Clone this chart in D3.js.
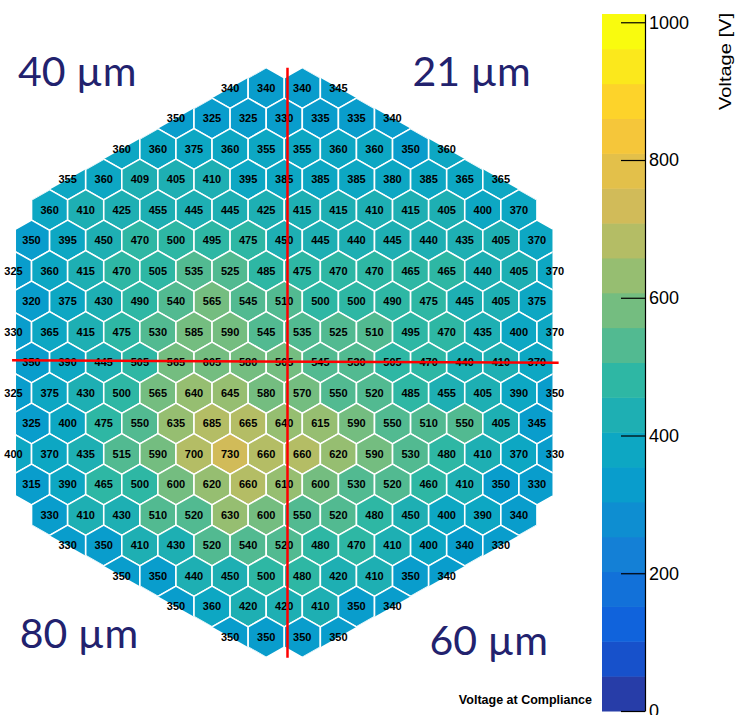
<!DOCTYPE html>
<html>
<head>
<meta charset="utf-8">
<script src="https://cdn.jsdelivr.net/npm/d3@7"></script>
<style>
  body { margin: 0; background: #fff; }
  svg { display: block; }
</style>
</head>
<body>
<svg id="chart"></svg>
<script>
const width = 738
const height = 715

// voltage at compliance, one list per honeycomb row (top to bottom)
const row01 = [340, 340, 340, 345]
const row02 = [350, 325, 325, 330, 335, 335, 340]
const row03 = [360, 360, 375, 360, 355, 355, 360, 360, 350, 360]
const row04 = [355, 360, 409, 405, 410, 395, 385, 385, 385, 380, 385, 365, 365]
const row05 = [360, 410, 425, 455, 445, 445, 425, 415, 415, 410, 415, 405, 400, 370]
const row06 = [350, 395, 450, 470, 500, 495, 475, 450, 445, 440, 445, 440, 435, 405, 370]
const row07 = [325, 360, 415, 470, 505, 535, 525, 485, 475, 470, 470, 465, 465, 440, 405, 370]
const row08 = [320, 375, 430, 490, 540, 565, 545, 510, 500, 500, 490, 475, 445, 405, 375]
const row09 = [330, 365, 415, 475, 530, 585, 590, 545, 535, 525, 510, 495, 470, 435, 400, 370]
const row10 = [350, 390, 445, 505, 565, 605, 580, 565, 545, 530, 505, 470, 440, 410, 370]
const row11 = [325, 375, 430, 500, 565, 640, 645, 580, 570, 550, 520, 485, 455, 405, 390, 350]
const row12 = [325, 400, 475, 550, 635, 685, 665, 640, 615, 590, 550, 510, 550, 405, 345]
const row13 = [400, 370, 435, 515, 590, 700, 730, 660, 660, 620, 590, 530, 480, 410, 370, 330]
const row14 = [315, 390, 465, 500, 600, 620, 660, 610, 600, 530, 520, 460, 410, 350, 330]
const row15 = [330, 410, 430, 510, 520, 630, 600, 550, 520, 480, 450, 400, 390, 340]
const row16 = [330, 350, 410, 430, 520, 540, 520, 480, 470, 410, 400, 340, 330]
const row17 = [350, 350, 440, 450, 500, 480, 420, 410, 350, 340]
const row18 = [350, 360, 420, 420, 410, 350, 340]
const row19 = [350, 350, 350, 350]

const rows = [row01, row02, row03, row04, row05, row06, row07, row08, row09, row10,
  row11, row12, row13, row14, row15, row16, row17, row18, row19]
// first half-column index of each row
const rowStart = [12, 9, 6, 3, 2, 1, 0, 1, 0, 1, 0, 1, 0, 1, 2, 3, 6, 9, 12]

const zMax = 1012
const nBands = 20
const zTicks = [0, 200, 400, 600, 800, 1000]

const corners = [
  { label: '40 µm', col: 0.25, row: -0.05 },
  { label: '21 µm', col: 22.1, row: -0.05 },
  { label: '80 µm', col: 0.35, row: 18.35 },
  { label: '60 µm', col: 23.05, row: 18.6 },
]

// ROOT kBird palette
const birdStops = [0, 0.125, 0.25, 0.375, 0.5, 0.625, 0.75, 0.875, 1]
const birdR = [0.2082, 0.0592, 0.0780, 0.0232, 0.1802, 0.5301, 0.8186, 0.9956, 0.9764]
const birdG = [0.1664, 0.3599, 0.5041, 0.6419, 0.7178, 0.7492, 0.7328, 0.7862, 0.9832]
const birdB = [0.5293, 0.8684, 0.8385, 0.7914, 0.6425, 0.4662, 0.3499, 0.1968, 0.0539]

const bird = d3.scaleLinear()
  .domain(birdStops)
  .range(birdStops.map((s, i) => d3.rgb(birdR[i] * 255, birdG[i] * 255, birdB[i] * 255)))
  .interpolate(d3.interpolateRgb)

const bandColor = (k) => bird(Math.floor((k + 0.99) * 255 / nBands) / 254)
const valueColor = (v) => bandColor(Math.min(nBands - 1, Math.floor(v / (zMax / nBands))))

const svg = d3.select('#chart').attr('width', width).attr('height', height)
svg.append('rect').attr('width', width).attr('height', height).attr('fill', '#fff')

// half-column / row scales
const x = d3.scaleLinear().domain([0, 30]).range([13.5, 555])
const y = d3.scaleLinear().domain([0, 18]).range([88, 637])

const cells = []
rows.forEach((vals, r) => {
  vals.forEach((v, i) => cells.push({ row: r, col: rowStart[r] + 2 * i, value: v }))
})

const hexPath = (d) => {
  const pts = [[0, -2 / 3], [1, -1 / 3], [1, 1 / 3], [0, 2 / 3], [-1, 1 / 3], [-1, -1 / 3]]
  return 'M' + pts.map(([dc, dr]) => [x(d.col + dc), y(d.row + dr)].join(',')).join('L') + 'Z'
}

// big hexagon outline that trims the honeycomb
const maskPts = [[15, -1], [29.86, 3.95], [29.86, 14.05], [15, 19], [0.14, 14.05], [0.14, 3.95]]
svg.append('clipPath').attr('id', 'outline')
  .append('path')
  .attr('d', 'M' + maskPts.map(([c, r]) => [x(c), y(r)].join(',')).join('L') + 'Z')

const cellG = svg.append('g').attr('clip-path', 'url(#outline)')
cellG.selectAll('path')
  .data(cells)
  .join('path')
  .attr('d', hexPath)
  .attr('fill', (d) => valueColor(d.value))
  .attr('stroke', '#fff')
  .attr('stroke-width', 1.6)
  .attr('stroke-linejoin', 'round')

svg.append('g')
  .selectAll('text')
  .data(cells)
  .join('text')
  .attr('x', (d) => x(d.col))
  .attr('y', (d) => y(d.row))
  .attr('dy', '0.36em')
  .attr('text-anchor', 'middle')
  .attr('font-family', 'Liberation Sans, Arial, sans-serif')
  .attr('font-weight', 'bold')
  .attr('font-size', 11)
  .attr('fill', '#000')
  .text((d) => d.value)

// red cross lines
svg.append('line')
  .attr('x1', x(15.18)).attr('y1', y(-0.66))
  .attr('x2', x(15.18)).attr('y2', y(18.68))
  .attr('stroke', '#f00').attr('stroke-width', 2.5)
svg.append('line')
  .attr('x1', x(-0.08)).attr('y1', y(8.93))
  .attr('x2', x(30.2)).attr('y2', y(9.01))
  .attr('stroke', '#f00').attr('stroke-width', 2.5)

// corner labels
svg.append('g')
  .selectAll('text')
  .data(corners)
  .join('text')
  .attr('x', (d) => x(d.col))
  .attr('y', (d) => y(d.row))
  .attr('font-family', 'Lato, Open Sans, sans-serif')
  .attr('font-size', 41)
  .attr('fill', '#22226e')
  .text((d) => d.label)

// colour bar
const z = d3.scaleLinear().domain([0, zMax]).range([711, 14])
const barX = 602
const barW = 43
const bandW = zMax / nBands

svg.append('g')
  .selectAll('rect')
  .data(d3.range(nBands))
  .join('rect')
  .attr('x', barX)
  .attr('width', barW)
  .attr('y', (k) => z((k + 1) * bandW))
  .attr('height', (k) => z(k * bandW) - z((k + 1) * bandW) + 0.5)
  .attr('fill', (k) => bandColor(k))

const zAxis = svg.append('g')
  .attr('transform', `translate(${barX + barW},0)`)
  .call(d3.axisRight(z).tickValues(zTicks).tickFormat(d3.format('d'))
    .tickSizeInner(-24).tickSizeOuter(0).tickPadding(4))

zAxis.select('.domain').attr('stroke', '#000').attr('stroke-width', 1.2)
zAxis.selectAll('.tick line').attr('stroke', '#000').attr('stroke-width', 1.2)
zAxis.selectAll('.tick text')
  .attr('font-family', 'Liberation Sans, Arial, sans-serif')
  .attr('font-size', 18)
  .attr('fill', '#000')

svg.append('text')
  .attr('transform', 'translate(731,13) rotate(-90)')
  .attr('text-anchor', 'end')
  .attr('font-family', 'Liberation Sans, Arial, sans-serif')
  .attr('font-size', 17)
  .attr('textLength', 97)
  .attr('lengthAdjust', 'spacingAndGlyphs')
  .text('Voltage [V]')

svg.append('text')
  .attr('x', 592)
  .attr('y', 704)
  .attr('text-anchor', 'end')
  .attr('font-family', 'Liberation Sans, Arial, sans-serif')
  .attr('font-weight', 'bold')
  .attr('font-size', 12.5)
  .text('Voltage at Compliance')
</script>
</body>
</html>
